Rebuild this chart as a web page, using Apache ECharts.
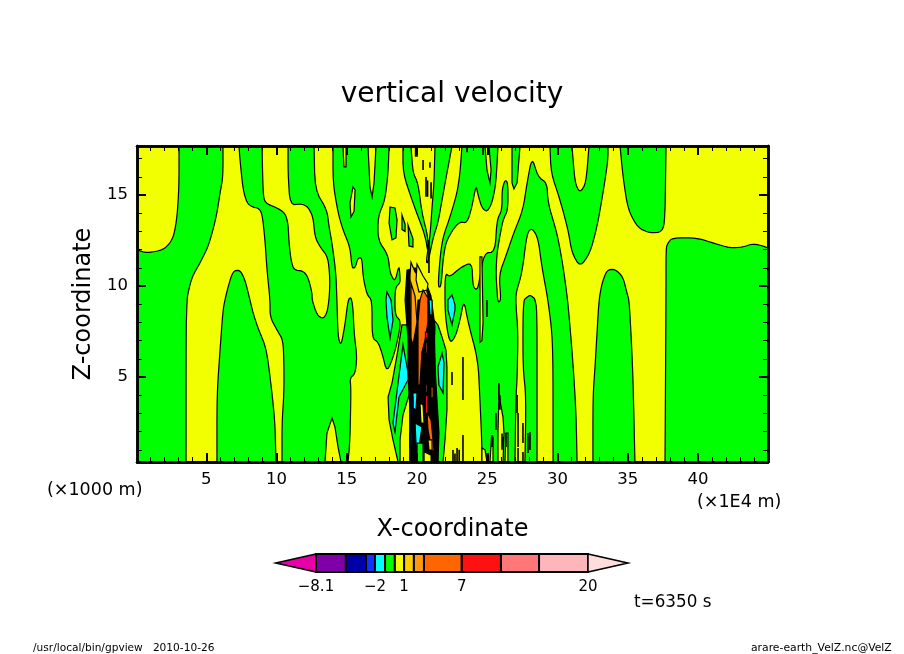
<!DOCTYPE html>
<html><head><meta charset="utf-8">
<style>html,body{margin:0;padding:0;background:#fff}#c{width:904px;height:654px}</style>
<script src="https://cdn.jsdelivr.net/npm/echarts@6/dist/echarts.min.js"></script>
</head><body><div id="c"></div>
<script>
// ---- axis ticks ----
const xMajor=[5,10,15,20,25,30,35,40];
const xMinor=[1,2,3,4,6,7,8,9,11,12,13,14,16,17,18,19,21,22,23,24,26,27,28,29,31,32,33,34,36,37,38,39,41,42,43,44];
const zMajor=[5,10,15];
const zMinor=[1,2,3,4,6,7,8,9,11,12,13,14,16,17];
// ---- contour regions of vertical velocity, [x (1E4 m), z (1000 m)] ----
const yellowA=[[0.07,17.69],[3.06,17.69],[3.06,15.44],[2.92,13.79],[2.70,12.80],[2.42,12.36],[1.92,11.98],[0.78,11.81],[0.07,11.98]];
const yellowB=[[6.19,17.69],[6.19,15.99],[5.98,15.11],[5.76,14.01],[5.48,13.08],[5.12,12.14],[4.55,11.26],[3.99,10.50],[3.70,9.62],[3.63,9.23],[3.56,7.42],[3.56,0.33],[5.76,0.33],[5.76,4.01],[5.98,6.48],[6.19,8.68],[6.33,9.23],[6.55,9.95],[6.90,10.82],[7.40,10.88],[7.76,10.33],[8.11,9.23],[8.33,8.52],[8.68,7.69],[9.18,6.76],[9.39,5.93],[9.68,4.12],[9.89,2.47],[9.96,0.33],[10.39,0.33],[10.39,2.47],[10.53,4.12],[10.53,5.77],[10.46,7.03],[10.03,7.58],[9.54,8.30],[9.54,9.23],[9.32,10.88],[9.18,12.53],[8.97,14.01],[8.68,14.29],[8.26,14.34],[7.90,14.56],[7.62,15.28],[7.40,16.92],[7.33,17.69]];
const yellowC=[[8.97,17.69],[9.04,15.11],[9.18,14.56],[10.03,14.29],[10.60,14.01],[10.82,13.46],[10.89,12.36],[11.03,11.43],[11.24,10.88],[11.89,10.82],[12.24,10.50],[12.53,9.62],[12.53,9.23],[12.88,8.41],[13.31,8.19],[13.59,8.52],[13.74,9.23],[13.81,10.33],[13.66,11.59],[13.10,12.14],[12.74,12.69],[12.60,13.79],[12.24,14.34],[11.81,14.51],[10.96,14.45],[10.82,16.21],[10.82,17.69]];
const yellowT=[[13.45,0.33],[13.59,1.92],[13.95,2.75],[14.16,2.25],[14.38,1.15],[14.59,0.33]];
const yellowMain=[[12.67,17.69],[12.74,15.28],[13.59,14.18],[13.74,13.24],[13.95,12.36],[14.23,10.71],[14.31,8.96],[14.38,7.20],[14.59,6.70],[14.87,7.86],[15.09,9.23],[15.30,9.40],[15.44,8.85],[15.52,7.42],[15.73,6.10],[15.59,5.17],[15.23,4.95],[15.30,4.29],[15.23,1.54],[15.09,0.33],[44.98,0.33],[44.98,17.69]];
const greenMid=[[14.02,17.69],[18.01,17.69],[17.94,16.21],[17.72,14.73],[17.22,13.79],[17.22,12.53],[17.94,11.70],[18.08,10.71],[18.43,10.22],[18.72,11.15],[18.79,10.50],[18.79,10.17],[18.43,9.89],[18.43,8.41],[18.79,8.13],[18.79,7.69],[18.43,6.37],[17.86,5.22],[17.51,6.32],[17.22,6.92],[16.80,7.14],[16.80,9.23],[16.44,9.51],[16.16,10.50],[16.08,11.54],[15.80,11.54],[15.59,10.99],[15.37,10.99],[15.23,12.14],[14.73,13.08],[14.38,14.01],[14.02,15.66]];
const tongue1=[[16.51,17.69],[16.65,15.44],[16.80,14.89],[16.94,15.66],[17.08,17.69]];
const sliver1=[[14.73,17.69],[14.80,16.54],[14.95,16.54],[14.95,17.69]];
const oval1=[[15.23,14.56],[15.30,13.79],[15.52,14.10],[15.59,15.28],[15.44,15.44]];
const islandA=[[18.08,14.34],[18.43,14.29],[18.58,13.63],[18.50,12.64],[18.22,12.53],[18.01,13.46]];
const islandB=[[18.93,13.90],[19.15,13.40],[19.15,13.00],[18.93,13.10]];
const islandC=[[19.36,13.35],[19.71,12.60],[19.71,12.14],[19.43,12.20]];
const green1=[[19.00,17.69],[19.57,17.69],[19.71,16.21],[20.07,15.66],[20.35,14.01],[20.78,12.69],[20.78,11.81],[20.57,12.80],[19.71,14.56],[19.00,16.21]];
const green2=[[21.28,17.69],[22.49,17.69],[22.13,16.21],[21.78,14.73],[21.49,13.46],[21.14,12.64],[20.78,11.26],[20.64,11.32],[20.92,12.69],[21.07,14.34],[21.21,15.66]];
const green3=[[23.20,17.69],[25.76,17.69],[25.62,15.66],[25.34,14.56],[24.98,14.07],[24.62,14.29],[24.34,15.00],[24.20,15.55],[23.91,14.34],[23.56,13.46],[23.06,13.52],[22.63,13.19],[22.06,12.42],[21.85,11.43],[21.71,9.95],[21.49,9.95],[21.64,11.59],[21.85,12.69],[22.35,13.79],[22.85,15.11],[23.06,16.21]];
const tongue2=[[24.84,17.69],[25.12,17.69],[25.27,16.37],[25.19,15.66],[24.98,16.37]];
const greenTop=[[26.76,17.69],[26.76,15.66],[26.90,15.33],[27.12,15.66],[27.33,17.69]];
const greenLow=[[21.99,10.71],[22.35,10.50],[23.06,10.99],[23.91,11.32],[23.98,9.95],[24.27,9.78],[24.41,10.17],[24.77,11.81],[25.55,11.87],[25.69,13.63],[26.05,14.18],[26.05,15.28],[26.26,15.83],[26.47,15.66],[26.47,14.18],[26.12,13.63],[25.91,12.80],[25.69,11.81],[25.62,10.71],[25.69,9.78],[25.76,9.07],[25.98,9.23],[25.83,10.60],[26.40,11.81],[26.83,12.80],[27.54,14.18],[27.83,15.66],[28.18,17.09],[28.61,15.99],[29.25,15.66],[29.32,14.56],[29.96,12.91],[30.32,11.43],[30.60,9.95],[30.75,8.96],[30.89,7.75],[31.10,5.77],[31.32,3.02],[31.39,0.33],[24.62,0.33],[24.62,1.26],[24.48,3.74],[24.34,5.93],[23.63,8.02],[23.34,9.23],[23.06,8.13],[22.77,7.31],[22.42,6.87],[22.20,7.31],[21.99,8.57]];
const yellowThin=[[24.48,11.60],[24.62,11.60],[24.70,8.00],[24.62,7.00],[24.48,6.90]];
const yellowInner=[[28.18,13.19],[27.83,12.91],[27.47,10.71],[27.04,9.62],[27.04,8.96],[27.19,7.42],[27.12,4.84],[27.04,3.90],[26.97,0.33],[27.68,0.33],[27.76,3.90],[27.54,5.55],[27.54,8.30],[27.61,9.23],[27.76,9.34],[28.04,9.51],[28.33,9.34],[28.40,9.23],[28.54,8.68],[28.54,3.35],[28.54,0.33],[29.68,0.33],[29.68,5.55],[29.61,7.42],[29.32,9.23],[28.89,11.04],[28.61,12.64]];
const greenR1=[[29.46,17.69],[31.03,17.69],[31.24,15.66],[31.60,15.11],[32.03,15.66],[32.24,17.69],[33.59,17.69],[33.59,16.92],[33.24,15.11],[32.81,13.24],[32.31,11.81],[31.60,11.04],[31.03,11.81],[30.75,13.08],[30.18,14.73],[29.54,16.21]];
const greenR2=[[34.45,17.69],[34.66,15.99],[35.02,14.18],[35.73,13.19],[36.58,12.91],[37.44,12.97],[37.65,13.63],[37.72,17.69]];
const greenR3=[[37.65,0.33],[37.72,9.23],[37.72,12.09],[37.86,12.36],[38.15,12.64],[39.93,12.64],[41.07,12.36],[42.28,12.09],[43.20,12.14],[43.84,12.31],[44.41,12.25],[44.98,12.09],[44.98,0.33]];
const greenR4=[[32.52,0.33],[32.52,3.90],[32.67,5.55],[32.81,7.42],[32.95,9.23],[33.17,10.17],[33.52,10.88],[34.09,10.93],[34.66,10.50],[34.94,9.62],[35.09,9.23],[35.23,7.42],[35.37,5.00],[35.51,0.33]];
const spike1=[[24.62,1.10],[24.84,1.00],[24.98,0.33],[24.62,0.33]];
const spike2=[[25.19,0.33],[25.30,1.70],[25.41,1.70],[25.41,0.33]];
const spike3=[[25.76,0.33],[25.76,1.92],[25.83,4.01],[26.12,2.80],[26.19,1.92],[26.12,0.33]];
const spike4=[[26.26,0.33],[26.33,1.92],[26.47,1.92],[26.47,0.33]];
const bandLeft=[[18.93,7.86],[18.58,6.21],[18.22,4.67],[17.94,3.90],[18.01,2.64],[18.29,1.54],[18.65,0.33],[19.86,0.33],[19.64,4.84],[19.50,7.03],[19.29,7.86]];
const wedgeLeft=[[19.43,4.01],[19.00,2.91],[18.79,1.54],[18.79,0.33],[19.50,0.33],[19.50,3.74]];
const cyanA=[[17.86,9.67],[18.15,9.23],[18.29,8.13],[18.08,7.14],[17.86,8.30],[17.79,9.23]];
const cyanB=[[19.00,6.76],[19.43,4.95],[18.72,3.90],[18.43,1.98],[18.29,2.47],[18.65,4.67]];
const cyanC=[[22.49,9.51],[22.70,8.96],[22.70,8.68],[22.49,7.86],[22.20,8.68],[22.20,9.23]];
const bandRight=[[21.21,8.13],[21.49,7.86],[21.78,7.20],[22.06,6.48],[22.13,5.55],[22.13,3.19],[21.99,1.54],[21.85,0.33],[21.49,0.33],[21.28,3.74],[21.28,5.93]];
const cyanR=[[21.78,6.32],[21.92,5.77],[21.85,4.12],[21.56,4.56],[21.49,5.55]];
const cyanTop=[[20.85,9.23],[21.07,9.23],[21.07,8.41],[20.92,8.41]];
const core=[[19.29,10.88],[19.86,10.99],[20.57,10.33],[20.99,9.45],[21.28,7.75],[21.21,6.48],[21.28,5.55],[21.42,3.74],[21.56,1.92],[21.49,0.33],[19.50,0.33],[19.50,3.19],[19.36,5.00],[19.36,7.03],[19.15,9.23]];
const goldA=[[19.57,11.30],[19.86,10.77],[20.50,10.22],[20.78,9.51],[20.64,9.23],[20.07,9.23],[20.00,8.02],[19.79,6.76],[19.57,7.03],[19.50,9.23],[19.50,10.60]];
const yellowTop=[[20.00,11.20],[20.43,10.55],[20.78,10.11],[20.71,9.78],[20.14,9.67],[19.93,10.33]];
const orangeA=[[19.57,10.17],[19.86,9.45],[20.00,8.02],[19.71,6.76],[19.57,7.14],[19.57,8.02]];
const orangeMain=[[20.43,9.78],[20.78,9.34],[20.78,8.02],[20.57,7.03],[20.35,6.37],[20.21,4.56],[20.07,4.56],[20.07,7.03],[20.07,8.02],[20.21,9.23]];
const orangeLow=[[20.71,3.08],[21.00,2.64],[21.21,1.00],[21.07,0.88],[20.78,2.09]];
const goldLow=[[20.78,1.54],[21.07,1.54],[21.07,0.99],[20.85,0.99]];
const yellowCore=[[20.21,3.57],[20.43,3.46],[20.50,2.47],[20.28,2.47]];
const cyanLow1=[[19.86,2.47],[20.35,2.25],[20.14,1.15],[19.93,1.26]];
const cyanLow2=[[19.71,4.12],[20.00,4.12],[19.93,3.19],[19.71,3.30]];
const navy1=[[19.50,1.92],[19.71,1.92],[19.64,1.15],[19.50,1.15]];
const navy2=[[19.57,3.90],[19.71,3.90],[19.71,2.91],[19.57,2.91]];
const greenCore=[[20.00,1.37],[20.43,1.37],[20.43,0.33],[20.00,0.33]];
const yellowFoot=[[20.50,0.90],[21.00,0.70],[21.00,0.33],[20.50,0.33]];
const red1=[[20.60,7.47],[20.78,7.47],[20.78,7.14],[20.60,7.14]];
const red2=[[20.60,4.00],[20.78,4.00],[20.78,3.00],[20.60,3.00]];
const pink1=[[20.60,6.90],[20.71,6.90],[20.71,6.30],[20.60,6.30]];
const pink2=[[20.60,4.60],[20.71,4.60],[20.71,4.15],[20.60,4.15]];
const orangeBit=[[21.00,4.45],[21.14,4.45],[21.14,3.85],[21.00,3.85]];
// thin contour slivers: [x, z from, z to]
const slivers=[[20.0,17.1,17.69],[19.9,17.1,17.69],[20.43,16.37,16.92],[20.64,14.9,15.99],[20.75,14.9,15.8],[21.0,14.8,15.7],[20.92,16.5,16.8],[23.56,17.35,17.69],[24.7,17.2,17.69],[22.49,4.56,5.28],[23.27,3.74,6.10],[23.27,0.33,1.81],[22.56,0.33,0.99],[22.85,0.33,1.1],[23.0,0.33,1.0],[22.7,0.33,0.8],[24.98,8.3,9.23],[25.83,3.74,4.67],[25.9,3.2,4.0],[25.62,2.09,3.02],[26.05,1.0,1.9],[26.12,1.2,1.7],[26.33,1.15,1.92],[27.12,3.02,4.01],[27.19,1.15,3.02],[27.54,1.37,2.47],[28.04,0.99,1.98],[27.9,0.82,1.92],[25.34,1.15,1.81],[24.98,0.33,0.82],[27.19,0.33,1.10],[27.54,0.33,0.88],[20.85,10.71,12.53]];
// ---- colour bar ----
const barEdges=[0,11,18.4,21.7,25.4,29,32.4,36,39.7,53.6,68,82,100];
const barColors=['#7f00a8','#0000a8','#1133ff','#00ffff','#00ff00','#f2ff00','#ffcc00','#ff9911','#ff6600','#ff1111','#ff7777','#ffb6bb'];
const barLabelAt=[0,21.7,32.4,53.6,100];
const barLabels=['\u22128.1','\u22122','1','7','20'];
// ---- colours ----
const G='#00ff00',Y='#f2ff00',C='#00ffff',K='#000000',AU='#ffcc00',O='#ff9911',DO='#ff6600',R='#ff1111',P='#ff7777',N='#0000a8';
const layers=[
 [yellowA,Y],[yellowB,Y],[yellowC,Y],[yellowT,Y],[yellowMain,Y],
 [greenMid,G],[tongue1,Y],[sliver1,Y],[oval1,Y],[islandA,G],[islandB,G],[islandC,G],
 [green1,G],[green2,G],[green3,G],[tongue2,Y],[greenTop,G],
 [greenLow,G],[yellowThin,Y],[yellowInner,Y],[greenR1,G],[greenR2,G],[greenR3,G],[greenR4,G],
 [spike1,Y],[spike2,Y],[spike3,Y],[spike4,Y],
 [bandLeft,G],[wedgeLeft,Y],[cyanA,C],[cyanB,C],[cyanC,C],[bandRight,G],[cyanR,C],
 [core,K],[goldA,AU],[yellowTop,Y],[orangeA,O],[orangeMain,DO],[cyanTop,C],
 [orangeLow,DO],[goldLow,AU],[yellowCore,Y],[cyanLow1,C],[cyanLow2,C],[navy1,N],[navy2,N],
 [greenCore,G],[yellowFoot,Y],[red1,R],[red2,R],[pink1,P],[pink2,P],[orangeBit,O]
];
const sharp=new Set([core,goldA,orangeMain,bandLeft,bandRight]);
const barCells=barColors.map((c,i)=>[[barEdges[i],0],[barEdges[i+1],0],[barEdges[i+1],1],[barEdges[i],1]]);
const XMIN=0.07,XMAX=44.98,ZMIN=0.33,ZMAX=17.69;
const FF='"DejaVu Sans"';
function xAxisOf(pos,vals,len,w,labels,extra){return Object.assign({type:'value',gridIndex:0,position:pos,min:XMIN,max:XMAX,z:20,splitLine:{show:false},
 axisLine:{show:true,onZero:false,lineStyle:{color:'#000',width:2.5}},
 axisTick:{show:true,inside:true,length:len,lineStyle:{color:'#000',width:w},customValues:vals},
 axisLabel:labels?{show:true,customValues:vals,color:'#000',fontFamily:FF,fontSize:16.5,margin:9,formatter:v=>String(v)}:{show:false}},extra||{});}
function yAxisOf(pos,vals,len,w,labels,extra){return Object.assign({type:'value',gridIndex:0,position:pos,min:ZMIN,max:ZMAX,z:20,splitLine:{show:false},
 axisLine:{show:true,onZero:false,lineStyle:{color:'#000',width:2.5}},
 axisTick:{show:true,inside:true,length:len,lineStyle:{color:'#000',width:w},customValues:vals},
 axisLabel:labels?{show:true,customValues:vals,color:'#000',fontFamily:FF,fontSize:16.5,margin:9,formatter:v=>String(v)}:{show:false}},extra||{});}
// soften long contour corners on screen, leaving vertices on the plot frame untouched
function onFrame(p){return p[0]<=XMIN||p[0]>=XMAX||p[1]<=ZMIN||p[1]>=ZMAX;}
function rounded(points,api){
 let pts=points.map(p=>({c:api.coord(p),fix:onFrame(p)}));
 if(points.length<8||sharp.has(points)) return pts.map(p=>p.c);
 for(let it=0;it<2;it++){
  const out=[];
  pts.forEach((p,i)=>{
   if(p.fix){out.push(p);return;}
   const a=pts[(i-1+pts.length)%pts.length].c,b=pts[(i+1)%pts.length].c,t=0.22;
   out.push({c:[p.c[0]+(a[0]-p.c[0])*t,p.c[1]+(a[1]-p.c[1])*t],fix:false});
   out.push({c:[p.c[0]+(b[0]-p.c[0])*t,p.c[1]+(b[1]-p.c[1])*t],fix:false});
  });
  pts=out;
 }
 return pts.map(p=>p.c);
}
function poly(points,api,fill,lw){return {type:'polygon',shape:{points:points.map(p=>api.coord(p))},style:{fill:fill,stroke:'#000',lineWidth:lw}};}
const chart=echarts.init(document.getElementById('c'),null,{renderer:'canvas'});
function txt(t,x,y,size,align){return {type:'text',x:x,y:y,style:{text:t,fill:'#000',font:size+'px '+FF,textAlign:align||'left',textVerticalAlign:'middle'},silent:true};}
chart.setOption({
 animation:false,backgroundColor:'#fff',
 title:{text:'vertical velocity',left:447,top:76,textAlign:'center',textStyle:{fontFamily:FF,fontWeight:'normal',fontSize:28,color:'#000'}},
 grid:[{left:137,top:146,width:631,height:316,show:true,backgroundColor:G,borderWidth:0},
       {left:275.7,top:554,width:352.3,height:18,show:false}],
 xAxis:[
  xAxisOf('bottom',xMajor,9,2,true,{name:'X-coordinate',nameLocation:'middle',nameGap:56,nameTextStyle:{fontFamily:FF,fontSize:24,color:'#000'}}),
  xAxisOf('bottom',xMinor,5,1,false),xAxisOf('top',xMajor,9,2,false),xAxisOf('top',xMinor,5,1,false),
  {type:'value',gridIndex:1,min:-14.8,max:114.7,position:'bottom',splitLine:{show:false},axisLine:{show:false},axisTick:{show:false},
   axisLabel:{show:true,customValues:barLabelAt,color:'#000',fontFamily:FF,fontSize:15,margin:8,showMinLabel:true,showMaxLabel:true,
    formatter:v=>barLabels[barLabelAt.indexOf(v)]}}
 ],
 yAxis:[
  yAxisOf('left',zMajor,9,2,true,{name:'Z-coordinate',nameLocation:'middle',nameGap:40,nameRotate:90,nameTextStyle:{fontFamily:FF,fontSize:24,color:'#000'}}),
  yAxisOf('left',zMinor,5,1,false),yAxisOf('right',zMajor,9,2,false),yAxisOf('right',zMinor,5,1,false),
  {type:'value',gridIndex:1,min:0,max:1,show:false}
 ],
 series:[
  {type:'custom',coordinateSystem:'cartesian2d',xAxisIndex:0,yAxisIndex:0,z:2,silent:true,clip:true,
   data:layers.map((l,i)=>[l[0][0][0],l[0][0][1],i]),
   renderItem:(p,api)=>{const l=layers[api.value(2)];
     return {type:'polygon',shape:{points:rounded(l[0],api)},style:{fill:l[1],stroke:'#000',lineWidth:1.2}};}},
  {type:'custom',coordinateSystem:'cartesian2d',xAxisIndex:0,yAxisIndex:0,z:3,silent:true,clip:true,
   data:slivers,
   renderItem:(p,api)=>{const a=api.coord([api.value(0),api.value(1)]),b=api.coord([api.value(0),api.value(2)]);
    return {type:'line',shape:{x1:a[0],y1:a[1],x2:b[0],y2:b[1]},style:{stroke:'#000',lineWidth:1.6}};}},
  {type:'custom',coordinateSystem:'cartesian2d',xAxisIndex:4,yAxisIndex:4,z:2,silent:true,
   data:barCells.map((c,i)=>[barEdges[i],0,i]),
   renderItem:(p,api)=>{const i=api.value(2);return poly(barCells[i],api,barColors[i],2);}},
  {type:'custom',coordinateSystem:'cartesian2d',xAxisIndex:4,yAxisIndex:4,z:2,silent:true,
   data:[[-14.8,0.5,0],[114.7,0.5,1]],
   renderItem:(p,api)=>{const k=api.value(2);
     return k===0?poly([[-14.8,0.5],[0,0],[0,1]],api,'#e600a8',1.5):poly([[114.7,0.5],[100,0],[100,1]],api,'#ffdddd',1.5);}}
 ],
 graphic:[
  txt('(\u00d71000 m)',47,490,17.5),
  txt('(\u00d71E4 m)',697,502,17.5),
  txt('t=6350 s',634,603,16.8),
  txt('/usr/local/bin/gpview   2010-10-26',33,648,10.6),
  txt('arare-earth_VelZ.nc@VelZ',751,648,10.8)
 ]
});
</script></body></html>
